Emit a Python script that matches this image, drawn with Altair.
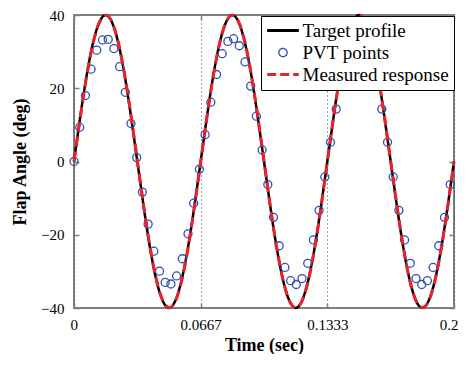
import altair as alt
import pandas as pd

# ---- data ----
series_names = ["Target profile", "PVT points", "Measured response"]
series_colors = ["#000000", "#2e4fb5", "#e8212a"]

x_ticks = [0, 0.0667, 0.1333, 0.2]
y_ticks = [-40, -20, 0, 20, 40]

target_dt = 1 / 300
target_vals = [
    0, 12.36, 23.51, 32.36, 38.04, 40, 38.04, 32.36, 23.51, 12.36,
    0, -12.36, -23.51, -32.36, -38.04, -40, -38.04, -32.36, -23.51, -12.36,
    0, 12.36, 23.51, 32.36, 38.04, 40, 38.04, 32.36, 23.51, 12.36,
    0, -12.36, -23.51, -32.36, -38.04, -40, -38.04, -32.36, -23.51, -12.36,
    0, 12.36, 23.51, 32.36, 38.04, 40, 38.04, 32.36, 23.51, 12.36,
    0, -12.36, -23.51, -32.36, -38.04, -40, -38.04, -32.36, -23.51, -12.36,
    0,
]

measured_vals = [
    0, 12.1, 23.3, 32.2, 37.9, 39.9, 38.1, 32.5, 23.7, 12.6,
    0.3, -12.1, -23.3, -32.2, -37.9, -39.9, -38.2, -32.6, -23.8, -12.6,
    -0.2, 12.2, 23.4, 32.3, 38.0, 39.9, 38.1, 32.5, 23.7, 12.5,
    0.2, -12.2, -23.4, -32.3, -38.0, -39.9, -38.1, -32.5, -23.7, -12.5,
    -0.1, 12.3, 23.4, 32.3, 38.0, 40.0, 38.1, 32.4, 23.6, 12.5,
    0.1, -12.2, -23.4, -32.3, -38.0, -39.9, -38.1, -32.5, -23.7, -12.5,
    -0.1,
]

pvt_dt = 0.003
pvt_vals = [
    0, 9.37, 18.0, 25.2, 30.4, 33.19, 33.34, 30.84, 25.89, 18.89,
    10.38, 1.06, -8.36, -17.1, -24.49, -29.94, -33.01, -33.45, -31.24, -26.55,
    -19.75, -11.38, -2.11, 7.33, 16.19, 23.76, 29.44, 32.79, 33.53, 31.61,
    27.18, 20.59, 12.37, 3.16, -6.3, -15.25, -23.0, -28.92, -32.54, -33.58,
    -31.96, -27.79, -21.42, -13.34, -4.21, 5.26, 14.31, 22.22, 28.37, 32.27,
    33.6, 32.27, 28.37, 22.22, 14.31, 5.26, -4.21, -13.34, -21.42, -27.79,
    -31.96, -33.58, -32.54, -28.92, -23.0, -15.25, -6.3,
]

target_df = pd.DataFrame({
    "t": [i * target_dt for i in range(len(target_vals))],
    "v": target_vals,
    "series": series_names[0],
})
pvt_df = pd.DataFrame({
    "t": [i * pvt_dt for i in range(len(pvt_vals))],
    "v": pvt_vals,
    "series": series_names[1],
})
meas_df = pd.DataFrame({
    "t": [i * target_dt for i in range(len(measured_vals))],
    "v": measured_vals,
    "series": series_names[2],
})

W, H = 380, 293
FONT = "Liberation Serif"
FRAME = "#7f7f7f"

xscale = alt.Scale(domain=[0, 0.2], nice=False, zero=False)
yscale = alt.Scale(domain=[-40, 40], nice=False, zero=False)

# small open circle drawn inside the same symbol box as the line samples
CIRCLE_PATH = "M0.26,0A0.26,0.26,0,1,1,-0.26,0A0.26,0.26,0,1,1,0.26,0Z"

legend = alt.Legend(
    title=None,
    orient="none",
    legendX=187,
    legendY=1,
    fillColor="white",
    strokeColor="black",
    padding=5,
    rowPadding=2,
    labelFont=FONT,
    labelFontSize=19,
    labelColor="black",
    labelOffset=10,
    symbolOffset=7.5,
    symbolType={"expr": "datum.value === 'PVT points' ? '" + CIRCLE_PATH + "' : 'stroke'"},
    symbolSize=1000,
    symbolStrokeWidth={"expr": "datum.value === 'PVT points' ? 1.3 : 3"},
    symbolDash={"expr": "datum.value === 'Measured response' ? [9, 4] : [1, 0]"},
    symbolFillColor="transparent",
    symbolOpacity=1,
)

color = alt.Color(
    "series:N",
    scale=alt.Scale(domain=series_names, range=series_colors),
    legend=legend,
)

tick_common = dict(
    labels=False, ticks=True, tickSize=5, tickWidth=1.5, tickColor=FRAME,
    domain=False, grid=False, title=None,
)

# Layer A: target profile with main labelled axes
x_main = alt.Axis(
    orient="bottom", values=x_ticks, format=".4~f", ticks=False, tickSize=0,
    domain=False, grid=True, gridDash=[1, 3], gridColor="#444444", gridWidth=1,
    labelFont=FONT, labelFontSize=15, labelColor="black", labelPadding=9,
    labelFlush=True, labelFlushOffset=4,
    title="Time (sec)", titleFont=FONT, titleFontSize=18, titleFontWeight="bold",
    titleColor="black", titlePadding=4,
)
y_main = alt.Axis(
    orient="left", values=y_ticks, ticks=False, tickSize=0, domain=False, grid=False,
    labelFont=FONT, labelFontSize=15, labelColor="black", labelPadding=10,
    title="Flap Angle (deg)", titleFont=FONT, titleFontSize=18, titleFontWeight="bold",
    titleColor="black", titlePadding=11,
)

target = alt.Chart(target_df).mark_line(strokeWidth=2.5, interpolate="natural").encode(
    x=alt.X("t:Q", scale=xscale, axis=x_main),
    y=alt.Y("v:Q", scale=yscale, axis=y_main),
    color=color,
)

# Layer B: PVT points; inward ticks on bottom and left edges
points = alt.Chart(pvt_df).mark_point(shape="circle", filled=False, size=64, strokeWidth=1.3, opacity=1).encode(
    x=alt.X("t:Q", scale=xscale, axis=alt.Axis(orient="top", offset=-H, values=x_ticks, **tick_common)),
    y=alt.Y("v:Q", scale=yscale, axis=alt.Axis(orient="right", offset=-W, values=y_ticks, **tick_common)),
    color=color,
)

# Layer C: measured response; inward ticks on top and right edges
measured = alt.Chart(meas_df).mark_line(strokeWidth=3, strokeDash=[10, 5], interpolate="natural").encode(
    x=alt.X("t:Q", scale=xscale, axis=alt.Axis(orient="bottom", offset=-H, values=x_ticks, **tick_common)),
    y=alt.Y("v:Q", scale=yscale, axis=alt.Axis(orient="left", offset=-W, values=y_ticks, **tick_common)),
    color=color,
)

chart = (
    alt.layer(target, points, measured)
    .resolve_axis(x="independent", y="independent")
    .properties(
        width=W,
        height=H,
        autosize=alt.AutoSizeParams(type="none"),
        padding={"left": 66, "top": 7, "right": 5, "bottom": 46},
        background="white",
    )
    .configure(font=FONT)
    .configure_axis(labelFont=FONT, titleFont=FONT)
    .configure_legend(labelFont=FONT)
    .configure_view(stroke=FRAME, strokeWidth=2)
)

chart.save("out.html", embed_options={"renderer": "svg", "actions": False})
